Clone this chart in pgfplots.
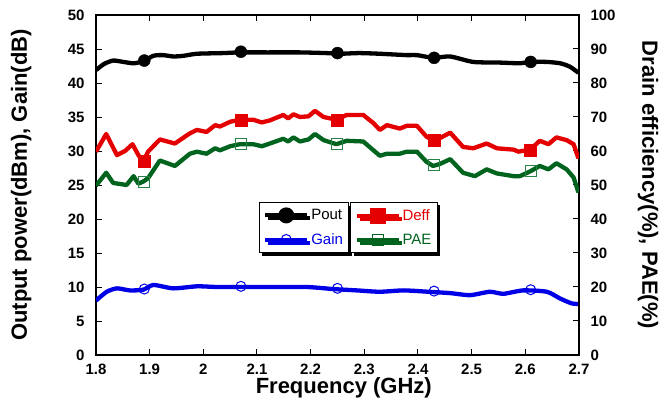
\documentclass[border=0pt]{standalone}
\usepackage{fontspec}
\setmainfont{Liberation Sans}
\usepackage{pgfplots}
\pgfplotsset{compat=1.18}
\usetikzlibrary{shadows}
\definecolor{cgain}{RGB}{0,0,230}
\definecolor{cdeff}{RGB}{228,0,0}
\definecolor{cpae}{RGB}{0,100,30}
\definecolor{cpaem}{RGB}{40,130,70}

\begin{document}
\begin{tikzpicture}
\pgfplotsset{
  every axis/.append style={
    scale only axis, width=483pt, height=340pt,
    xmin=1.8, xmax=2.7,
    tick align=inside, major tick length=6pt,
    /pgf/number format/assume math mode=true,
    ticklabel style={font=\bfseries\fontsize{15}{17}\selectfont},
    axis line style={line width=1.2pt},
    every tick/.style={black, line width=1pt},
    label style={font=\bfseries\fontsize{22}{24}\selectfont},
    legend style={draw=black, line width=1pt, fill=white,
      font=\fontsize{15}{17}\selectfont, anchor=north west,
      inner xsep=4pt, inner ysep=5pt, row sep=8pt, cells={anchor=west},
      drop shadow={shadow xshift=3pt, shadow yshift=-3pt, fill=black, opacity=1}},
    legend image code/.code={\draw[mark repeat=2,mark phase=2,#1] plot coordinates {(0pt,0pt)(21pt,0pt)(42pt,0pt)};},
  },
}
\begin{axis}[name=ax,
  ymin=0, ymax=50, ytick={0,5,...,50},
  xtick={1.8,1.9,2,2.1,2.2,2.3,2.4,2.5,2.6,2.7},
  xtick pos=both, ytick pos=left,
  xticklabel style={yshift=-5pt},
  yticklabel style={xshift=-8pt},
  xlabel={Frequency (GHz)},
  ylabel={Output power(dBm), Gain(dB)},
  xlabel style={at={(axis description cs:0.513,-0.097)}, anchor=center},
  ylabel style={at={(axis description cs:-0.155,0.5)}, anchor=center},
  legend style={at={(0.337,0.45)}},
]
\addlegendimage{black, line width=4pt, mark=*, mark size=6pt}
\addlegendentry{Pout}
\addlegendimage{cgain, line width=4pt, mark=o, mark size=5pt, mark options={line width=1pt}}
\addlegendentry{\textcolor{cgain}{Gain}}

% Pout
\addplot[forget plot, black, line width=4.3pt, smooth, tension=0.4] coordinates {
(1.800,41.9)(1.815,42.8)(1.832,43.3)(1.851,43.1)(1.870,42.9)(1.888,43.2)
(1.907,44.0)(1.925,44.1)(1.944,43.9)(1.963,44.0)(1.988,44.3)(2.037,44.4)
(2.068,44.5)(2.120,44.5)(2.180,44.5)(2.229,44.4)(2.255,44.3)(2.290,44.4)
(2.329,44.3)(2.379,44.1)(2.398,44.1)(2.429,43.7)(2.460,43.9)(2.503,43.1)
(2.553,43.0)(2.590,42.9)(2.609,43.1)(2.640,43.1)(2.665,42.9)(2.683,42.4)
(2.699,41.5)};
\addplot[forget plot, only marks, black, mark=*, mark size=6pt] coordinates {
(1.89,43.3)(2.07,44.6)(2.25,44.4)(2.43,43.7)(2.61,43.1)};

% Gain
\addplot[forget plot, cgain, line width=4.3pt, smooth, tension=0.4] coordinates {
(1.800,8.0)(1.820,9.3)(1.839,9.8)(1.863,9.5)(1.888,9.6)(1.907,10.3)
(1.944,9.8)(1.988,10.1)(2.025,10.0)(2.065,10.0)(2.130,10.0)(2.193,10.0)
(2.242,9.7)(2.286,9.5)(2.329,9.3)(2.373,9.5)(2.419,9.3)(2.460,9.1)
(2.497,8.8)(2.534,9.3)(2.559,9.0)(2.596,9.5)(2.640,9.3)(2.665,8.3)
(2.686,7.6)(2.699,7.5)};
\addplot[forget plot, only marks, cgain, mark=o, mark size=5pt, mark options={line width=1pt}] coordinates {
(1.89,9.7)(2.07,10.1)(2.25,9.8)(2.43,9.4)(2.61,9.6)};
\end{axis}

\begin{axis}[
  axis x line=none, axis y line*=right,
  ymin=0, ymax=100, ytick={0,10,...,100},
  yticklabel style={xshift=8pt},
  ylabel={Drain efficiency(\%), PAE(\%)},
  ylabel style={at={(axis description cs:1.143,0.5)}, anchor=center, rotate=180},
  legend style={at={(0.526,0.45)}},
]
\addlegendimage{cdeff, line width=4pt, mark=square*, mark size=6pt}
\addlegendentry{\textcolor{cdeff}{Deff}}
\addlegendimage{cpae, line width=4pt, mark=square, mark size=5.5pt, mark options={line width=1pt}}
\addlegendentry{\textcolor{cpae}{PAE}}

% Deff
\addplot[forget plot, cdeff, line width=4.3pt, line join=round] coordinates {
(1.800,59.8)(1.819,65.0)(1.839,58.8)(1.854,60.0)(1.868,62.0)(1.879,58.8)
(1.888,56.8)(1.897,59.8)(1.919,63.4)(1.947,62.2)(1.975,65.2)(1.988,66.2)
(2.006,65.6)(2.022,67.6)(2.031,67.2)(2.050,68.6)(2.068,69.2)(2.093,69.2)
(2.109,68.4)(2.124,69.0)(2.149,70.6)(2.158,69.6)(2.168,70.8)(2.180,70.0)
(2.196,70.2)(2.208,71.8)(2.224,70.0)(2.248,69.2)(2.267,70.6)(2.298,70.6)
(2.317,68.2)(2.329,66.2)(2.342,67.6)(2.366,66.6)(2.379,67.4)(2.398,67.4)
(2.416,64.2)(2.428,63.2)(2.441,63.8)(2.460,65.4)(2.484,61.2)(2.503,60.8)
(2.528,62.2)(2.547,60.8)(2.578,60.4)(2.587,59.8)(2.609,60.4)(2.627,63.0)
(2.643,62.0)(2.658,64.0)(2.677,63.2)(2.690,62.0)(2.699,57.8)};
\addplot[forget plot, only marks, cdeff, mark=square*, mark size=6pt] coordinates {
(1.89,57.0)(2.07,69.0)(2.25,69.0)(2.43,63.2)(2.61,60.3)};

% PAE
\addplot[forget plot, cpae, line width=4.3pt, line join=round] coordinates {
(1.800,49.8)(1.819,53.6)(1.832,50.6)(1.857,50.0)(1.870,52.6)(1.879,50.4)
(1.888,51.0)(1.897,52.0)(1.919,57.2)(1.947,55.6)(1.975,59.2)(1.988,59.8)
(2.006,59.2)(2.022,60.8)(2.031,60.2)(2.050,61.4)(2.068,62.0)(2.093,62.0)
(2.109,61.4)(2.124,62.2)(2.149,63.6)(2.158,62.8)(2.168,64.0)(2.180,62.8)
(2.196,63.4)(2.208,65.0)(2.224,63.2)(2.248,62.0)(2.267,63.0)(2.298,62.8)
(2.317,60.2)(2.329,58.6)(2.342,59.2)(2.366,59.2)(2.379,59.8)(2.398,59.8)
(2.416,56.8)(2.428,55.6)(2.441,56.2)(2.460,57.6)(2.484,53.6)(2.506,52.6)
(2.528,54.6)(2.547,53.4)(2.578,52.6)(2.590,52.6)(2.609,54.0)(2.627,55.6)
(2.643,54.6)(2.658,56.4)(2.677,54.6)(2.690,52.2)(2.699,47.8)};
\addplot[forget plot, only marks, cpaem, mark=square, mark size=5.5pt, mark options={line width=1pt}] coordinates {
(1.89,50.9)(2.07,62.0)(2.25,62.0)(2.43,55.9)(2.61,54.1)};
\end{axis}
\path (ax.south west) ++(-96pt,-52pt) rectangle +(665pt,407pt);
\end{tikzpicture}
\end{document}
